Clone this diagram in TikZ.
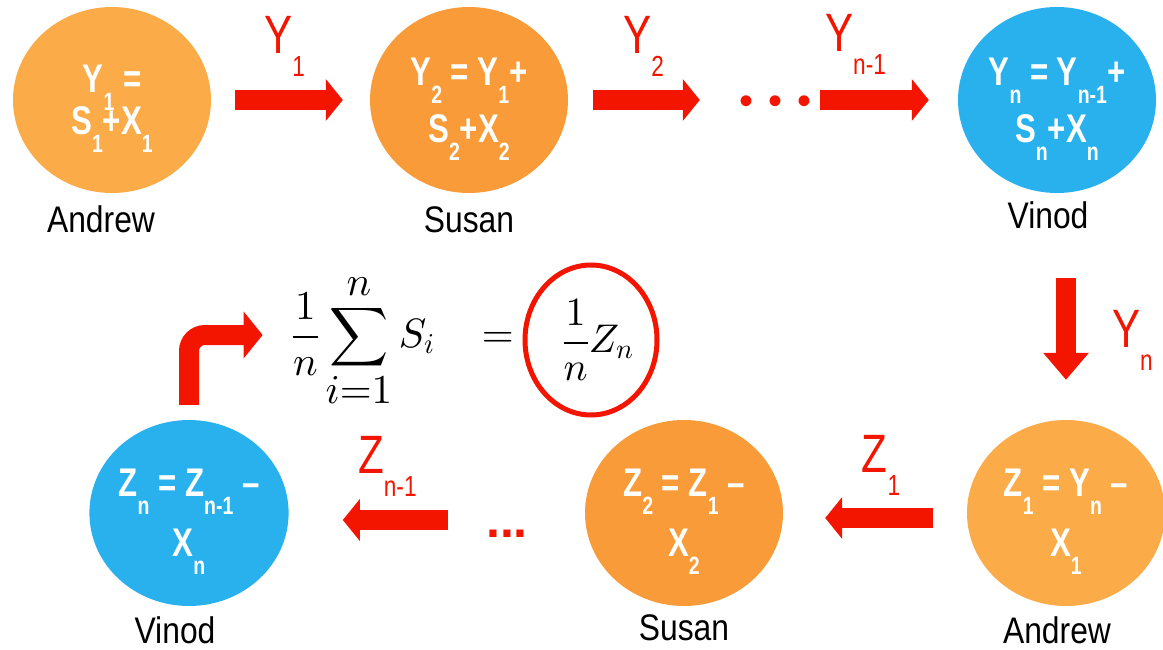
\RequirePackage{fix-cm}
\documentclass[tikz,border=0pt]{standalone}
\usepackage{amsmath}
\usepackage[no-math]{fontspec}
\setmainfont{Liberation Sans}
\newfontfamily\ballfont[FakeStretch=0.78]{Liberation Sans Bold}
\newfontfamily\tagfont[FakeStretch=0.78]{Liberation Sans}
\newfontfamily\whofont[FakeStretch=0.86]{Liberation Sans}
\DeclareFontShape{OT1}{cmr}{m}{n}{<->cmr10}{}
\DeclareFontShape{OML}{cmm}{m}{it}{<->cmmi10}{}
\DeclareFontShape{OMS}{cmsy}{m}{n}{<->cmsy10}{}
\DeclareFontShape{OMX}{cmex}{m}{n}{<->cmex10}{}
\usepackage{tikz}
\usetikzlibrary{shapes.geometric,arrows.meta,positioning}

\definecolor{orangeA}{HTML}{FBAB48}
\definecolor{orangeS}{HTML}{F89B38}
\definecolor{blueV}{HTML}{29B1EE}
\definecolor{arrred}{HTML}{F41500}

\newcommand{\bsub}[1]{\raisebox{-18pt}[0pt][0pt]{\fontsize{25}{25}\selectfont #1}}
\newcommand{\tsub}[1]{\raisebox{-23pt}[0pt][0pt]{\fontsize{29}{29}\selectfont #1}}

\begin{document}
\begin{tikzpicture}[
    x=1pt, y=-1pt,
    ball/.style={ellipse, minimum width=198pt, minimum height=186pt, inner sep=0pt, align=center, text=white, font=\ballfont\fontsize{40}{42}\selectfont},
    who/.style={inner sep=0pt, font=\whofont\fontsize{37}{40}\selectfont},
    tag/.style={inner sep=0pt, text=arrred, font=\tagfont\fontsize{54}{56}\selectfont},
    bigarr/.style={draw=arrred, line width=20pt, -{Triangle[length=17pt, width=41pt]}},
    dotty/.style={inner sep=0pt, text=arrred},
    mathy/.style={inner sep=0pt, font=\fontsize{41}{48}\selectfont},
    ring/.style={ellipse, draw=arrred, line width=5pt, minimum width=132pt, minimum height=150pt, inner sep=0pt, font=\fontsize{40}{48}\selectfont}
]
    \useasboundingbox (0,0) rectangle (1163,650);

    \node [ball, fill=orangeA] (andT) at (112,100) {Y\bsub{1} =\\S\bsub{1}+X\bsub{1}};
    \node [ball, fill=orangeS] (susT) at (469,100) {Y\bsub{2} = Y\bsub{1}+\\[15pt]S\bsub{2}+X\bsub{2}};
    \node [ball, fill=blueV] (vinT) at (1057,100) {Y\bsub{n} = Y\bsub{n-1}+\\[15pt]S\bsub{n}+X\bsub{n}};
    \node [dotty, font=\fontsize{40}{40}\selectfont, text height=29pt, text depth=0pt] (dotsT) at (775,100) {•\hspace{15pt}•\hspace{15pt}•};

    \node [ball, fill=orangeA] (andB) at (1066,513) {Z\bsub{1} = Y\bsub{n} –\\[18pt]X\bsub{1}};
    \node [ball, fill=orangeS] (susB) at (684,513) {Z\bsub{2} = Z\bsub{1} –\\[18pt]X\bsub{2}};
    \node [ball, fill=blueV] (vinB) at (189,513) {Z\bsub{n} = Z\bsub{n-1} –\\[18pt]X\bsub{n}};
    \node [dotty, font=\bfseries\fontsize{50}{50}\selectfont, text height=34pt, text depth=0pt] (dotsB) at (507,520) {...};

    \node [who, below=12pt of andT, xshift=-11pt] (andTname) {Andrew};
    \node [who, below=13pt of susT] (susTname) {Susan};
    \node [who, below=8pt of vinT, xshift=-9pt] (vinTname) {Vinod};
    \node [who, below=10pt of vinB, xshift=-14pt] (vinBname) {Vinod};
    \node [who, below=8pt of susB] (susBname) {Susan};
    \node [who, below=10pt of andB, xshift=-9pt] (andBname) {Andrew};

    \node [mathy, anchor=east] (sumL) at (514,341) {$\displaystyle\frac{1}{n}\sum_{\textstyle i{=}1}^{\textstyle n} S_i\hspace{36pt}=$};
    \node [ring] (zL) at (591,340) {\hspace*{14pt}$\displaystyle\frac{1}{n}Z_n$};

    \draw [bigarr, shorten <=24pt, shorten >=27pt] (andT) -- node[tag, above=36pt, xshift=-6pt] (y1) {Y\tsub{1}} (susT);
    \draw [bigarr, shorten <=25pt, shorten >=39pt] (susT) -- node[tag, above=36pt, xshift=-10pt] (y2) {Y\tsub{2}} (dotsT);
    \draw [bigarr, shorten <=9pt, shorten >=29pt] (dotsT) -- node[tag, above=38pt, xshift=-29pt] (yn1) {Y\tsub{n-1}} (vinT);
    \draw [bigarr, -{Triangle[length=27pt, width=44pt]}, shorten <=85pt, shorten >=40pt] (andB.north |- vinT.south) -- node[tag, pos=0.6, right=36pt] (yn) {Y\tsub{n}} (andB.north);
    \draw [bigarr, shorten <=34pt, shorten >=42pt] ([yshift=-5pt]andB.west) -- node[tag, above=36pt, xshift=6pt] (z1) {Z\tsub{1}} ([yshift=-5pt]susB.east);
    \draw [bigarr, shorten <=38pt, shorten >=54pt] (dotsB.west) -- node[tag, above=37pt] (zn1) {Z\tsub{n-1}} (dotsB.west -| vinB.east);
    \draw [bigarr, -{Triangle[length=19pt, width=46pt]}, rounded corners=16pt, shorten <=15pt, shorten >=29pt] (vinB.north) |- ([yshift=6pt]sumL.west);
\end{tikzpicture}
\end{document}
